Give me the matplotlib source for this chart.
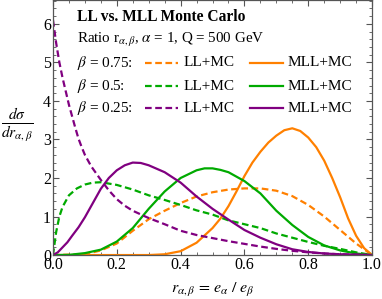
import numpy as np
import matplotlib
matplotlib.use("Agg")
from matplotlib import pyplot as plt
from matplotlib.ticker import MultipleLocator, FormatStrFormatter

plt.rcParams['font.family'] = 'Liberation Serif'
plt.rcParams['mathtext.fontset'] = 'stix'

# Datos leidos de la figura
# beta = 0.75
x_ll_075 = [0, 0.1, 0.15, 0.2, 0.25, 0.3, 0.35, 0.4, 0.45, 0.5, 0.55, 0.6, 0.65, 0.7, 0.75, 0.8, 0.85, 0.9, 0.95, 1.0]
y_ll_075 = [0, 0.02, 0.12, 0.3, 0.63, 0.93, 1.15, 1.35, 1.52, 1.63, 1.70, 1.73, 1.73, 1.67, 1.53, 1.30, 1.0, 0.65, 0.3, 0]
x_mll_075 = [0, 0.3, 0.35, 0.4, 0.45, 0.5, 0.525, 0.55, 0.575, 0.6, 0.625, 0.65, 0.675, 0.7, 0.725, 0.75,
             0.775, 0.8, 0.825, 0.85, 0.875, 0.9, 0.925, 0.95, 0.975, 1.0]
y_mll_075 = [0, 0.0, 0.02, 0.1, 0.32, 0.7, 0.95, 1.27, 1.65, 2.05, 2.4, 2.68, 2.92, 3.1, 3.24, 3.29,
             3.22, 3.05, 2.8, 2.45, 2.0, 1.5, 0.95, 0.5, 0.18, 0]

# beta = 0.5
x_ll_05 = [0, 0.01, 0.02, 0.03, 0.05, 0.075, 0.1, 0.125, 0.15, 0.2, 0.25, 0.3, 0.35, 0.4, 0.45, 0.5,
           0.55, 0.6, 0.65, 0.7, 0.75, 0.8, 0.85, 0.9, 0.95, 1.0]
y_ll_05 = [0, 0.6, 1.0, 1.25, 1.55, 1.73, 1.83, 1.88, 1.89, 1.82, 1.70, 1.55, 1.43, 1.30, 1.16, 1.05,
           0.9, 0.8, 0.7, 0.56, 0.45, 0.34, 0.24, 0.16, 0.07, 0]
x_mll_05 = [0, 0.05, 0.1, 0.15, 0.2, 0.25, 0.3, 0.35, 0.4, 0.45, 0.475, 0.5, 0.525, 0.55, 0.6, 0.65,
            0.7, 0.75, 0.8, 0.85, 0.9, 0.95, 1.0]
y_mll_05 = [0, 0.005, 0.05, 0.14, 0.35, 0.7, 1.2, 1.65, 2.0, 2.2, 2.25, 2.25, 2.21, 2.15, 1.92, 1.6,
            1.15, 0.78, 0.47, 0.25, 0.12, 0.04, 0]

# beta = 0.25
x_ll_025 = [0, 0.01, 0.02, 0.03, 0.04, 0.05, 0.06, 0.07, 0.08, 0.09, 0.1, 0.12, 0.15, 0.175, 0.2, 0.225,
            0.25, 0.3, 0.35, 0.4, 0.45, 0.5, 0.55, 0.6, 0.65, 0.7, 0.75, 0.8, 0.85, 0.9, 0.95, 1.0]
y_ll_025 = [6.1, 5.5, 5.0, 4.6, 4.25, 3.9, 3.6, 3.3, 3.02, 2.8, 2.6, 2.3, 1.95, 1.68, 1.45, 1.28,
            1.15, 0.96, 0.8, 0.63, 0.52, 0.44, 0.36, 0.29, 0.22, 0.16, 0.11, 0.07, 0.04, 0.02, 0.01, 0]
x_mll_025 = [0, 0.015, 0.03, 0.045, 0.06, 0.08, 0.1, 0.125, 0.15, 0.175, 0.2, 0.225, 0.25, 0.275, 0.3,
             0.35, 0.4, 0.45, 0.5, 0.55, 0.6, 0.65, 0.7, 0.75, 0.8, 0.85, 0.9, 1.0]
y_mll_025 = [0, 0.07, 0.2, 0.33, 0.5, 0.72, 0.98, 1.35, 1.72, 2.0, 2.2, 2.33, 2.40, 2.39, 2.33,
             2.15, 1.88, 1.52, 1.2, 0.92, 0.65, 0.45, 0.28, 0.15, 0.08, 0.04, 0.02, 0]

naranja = '#ff8000'
verde = '#00aa00'
morado = '#800080'
guiones = (0, (3.0, 1.6))

fig = plt.figure(figsize=(3.82, 2.99), dpi=100)
ax = fig.add_axes([0.1387, 0.147, 0.8353, 0.853])

ax.plot(x_ll_075, y_ll_075, color=naranja, ls=guiones, lw=1.6)
ax.plot(x_mll_075, y_mll_075, color=naranja, lw=1.6)
ax.plot(x_ll_05, y_ll_05, color=verde, ls=guiones, lw=1.6)
ax.plot(x_mll_05, y_mll_05, color=verde, lw=1.6)
ax.plot(x_ll_025, y_ll_025, color=morado, ls=guiones, lw=1.6)
ax.plot(x_mll_025, y_mll_025, color=morado, lw=1.6)

ax.set_xlim(0, 1)
ax.set_ylim(0, 6.62)
ax.xaxis.set_major_locator(MultipleLocator(0.2))
ax.xaxis.set_minor_locator(MultipleLocator(0.05))
ax.yaxis.set_major_locator(MultipleLocator(1))
ax.yaxis.set_minor_locator(MultipleLocator(0.2))
ax.xaxis.set_major_formatter(FormatStrFormatter('%.1f'))
ax.tick_params(which='both', direction='in', top=True, right=True, color='#555555', labelsize=11.5, pad=1.5)
ax.tick_params(which='major', length=4.5, width=0.8)
ax.tick_params(which='minor', length=2.5, width=0.6)
for s in ax.spines.values():
    s.set_color('#555555')
    s.set_linewidth(0.9)

ax.set_xlabel(r'$r_{\alpha,\beta}\, =\, e_\alpha\ /\ e_\beta$', fontsize=11.5, labelpad=6)
fig.text(0.045, 0.582, r'$\frac{d\sigma}{dr_{\alpha,\beta}}$', fontsize=16, ha='center', va='center')

# Leyenda manual
fig.text(77/382, 1 - 17/299, 'LL vs. MLL Monte Carlo', fontsize=11.2, fontweight='bold', va='center')
fig.text(77/382, 1 - 40/299, r'Ratio r$_{\alpha,\beta}$, $\alpha$ = 1, Q = 500 GeV', fontsize=10.8, va='center')
filas = [(r'$\beta$ = 0.75:', naranja, 63), (r'$\beta$ = 0.5:', verde, 86), (r'$\beta$ = 0.25:', morado, 108)]
for etiqueta, c, yp in filas:
    yf = 1 - yp / 299
    fig.text(77/382, yf, etiqueta, fontsize=11, va='center')
    fig.add_artist(plt.Line2D([145/382, 178/382], [yf, yf], color=c, ls=guiones, lw=1.6))
    fig.text(184/382, yf, 'LL+MC', fontsize=11, va='center')
    fig.add_artist(plt.Line2D([250/382, 283/382], [yf, yf], color=c, lw=1.6))
    fig.text(288/382, yf, 'MLL+MC', fontsize=11, va='center')

plt.savefig('out.png', dpi=100)
